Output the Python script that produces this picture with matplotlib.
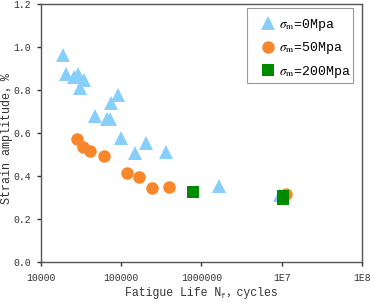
import matplotlib
matplotlib.use("Agg")
import matplotlib.pyplot as plt
from matplotlib.ticker import FixedLocator, FixedFormatter, NullLocator
from matplotlib.patches import Rectangle

FAM = ['Liberation Mono', 'Noto Sans CJK SC', 'DejaVu Sans']
plt.rcParams['font.family'] = FAM
plt.rcParams['mathtext.fontset'] = 'stix'

# sigma_m = 0 MPa
n0 = [18980, 20280, 25750, 29150, 34340, 30600, 92000, 74500, 47100, 65800, 72400,
      99300, 148400, 201000, 357000, 1650000, 9500000]
e0 = [0.963, 0.874, 0.859, 0.874, 0.847, 0.808, 0.777, 0.738, 0.679, 0.664, 0.664,
      0.575, 0.509, 0.555, 0.513, 0.353, 0.312]
# sigma_m = 50 MPa
n50 = [28400, 33600, 40800, 61500, 116700, 168000, 241500, 397000, 11200000]
e50 = [0.572, 0.536, 0.516, 0.493, 0.416, 0.397, 0.346, 0.350, 0.316]
# sigma_m = 200 MPa
n200 = [791000, 10300000, 10300000]
e200 = [0.327, 0.306, 0.291]

xticks = [1e4, 1e5, 1e6, 1e7, 1e8]
xlabels = ['10000', '100000', '1000000', '1E7', '1E8']
yticks = [0.0, 0.2, 0.4, 0.6, 0.8, 1.0, 1.2]
labels = [r'$\sigma_\mathrm{m}$=0Mpa', r'$\sigma_\mathrm{m}$=50Mpa', r'$\sigma_\mathrm{m}$=200Mpa']

W, H = 371, 303
fig = plt.figure(figsize=(W / 100, H / 100), dpi=100)
ax = fig.add_axes([0.1105, 0.1353, 0.8652, 0.8517])

ax.plot(n0, e0, linestyle='none', marker='^', color='#87CEFA', markersize=10,
        markeredgewidth=0, label=labels[0])
ax.plot(n50, e50, linestyle='none', marker='o', color='#F8862A', markersize=9,
        markeredgewidth=0, label=labels[1])
ax.plot(n200, e200, linestyle='none', marker='s', color='#008A00', markersize=8,
        markeredgewidth=0, label=labels[2])

ax.set_xscale('log')
ax.set_xlim(1e4, 1e8)
ax.set_ylim(0, 1.2)
ax.xaxis.set_major_locator(FixedLocator(xticks))
ax.xaxis.set_major_formatter(FixedFormatter(xlabels))
ax.xaxis.set_minor_locator(NullLocator())
ax.set_yticks(yticks)
ax.set_yticklabels(['%.1f' % v for v in yticks])

for s in ax.spines.values():
    s.set_color('#555555')
    s.set_linewidth(1.0)
ax.tick_params(axis='both', direction='out', length=3, width=1, color='#333333',
               labelsize=7, labelcolor='#333333', top=False, right=False)
ax.tick_params(axis='x', pad=5)
ax.tick_params(axis='y', pad=4)

ax.set_ylabel('Strain amplitude，%', fontsize=8.5, color='#333333')
ax.yaxis.set_label_coords(-0.088, 0.477)

# x label built from pieces: main text, subscript f, full-width comma text
renderer = fig.canvas.get_renderer()
base_y = 7.0
parts = [('Fatigue Life N', 8.3, 0.0), ('f', 5.5, -2.0), ('，cycles', 8.3, 0.0)]
texts = []
for s, fs, dy in parts:
    t = fig.text(0, (base_y + dy) / H, s, fontsize=fs, color='#333333',
                 ha='left', va='baseline', family=FAM)
    texts.append(t)
widths = [t.get_window_extent(renderer).width for t in texts]
cx = (0.1105 + 0.8652 / 2) * W
x = cx - sum(widths) / 2
for t, w in zip(texts, widths):
    t.set_x(x / W)
    x += w

# legend box drawn separately (text nearly touches its right edge in the reference)
ax.add_patch(Rectangle((0.6417, 0.6938), 0.3303, 0.2907, transform=ax.transAxes,
                       facecolor='white', edgecolor='#999999', linewidth=0.8, zorder=4))
leg = ax.legend(loc='upper left', frameon=False, handlelength=1.2, handletextpad=0.25,
                borderpad=0, borderaxespad=0, labelspacing=0.55, numpoints=1,
                bbox_to_anchor=(0.682, 0.949), prop={'family': FAM, 'size': 9.5})
leg.set_zorder(5)

fig.savefig('out.png', dpi=100)
